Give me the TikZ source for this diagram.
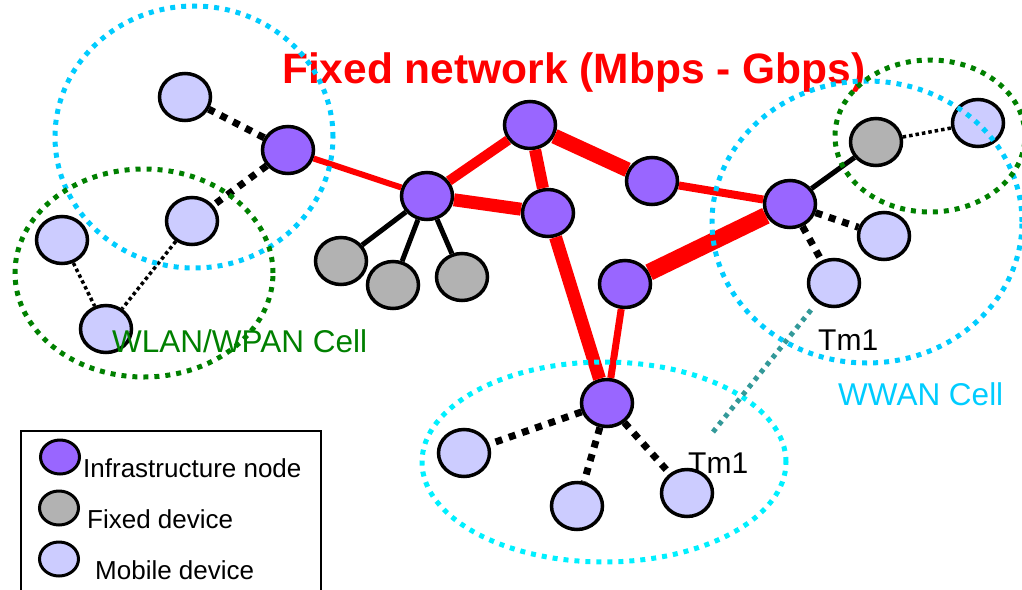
\documentclass[tikz,border=0pt]{standalone}
\usepackage{fontspec}
\setmainfont{Liberation Sans}
\usetikzlibrary{shapes.geometric}
\definecolor{infra}{HTML}{9966FF}
\definecolor{fixedc}{HTML}{B2B2B2}
\definecolor{mobc}{HTML}{CCCCFF}
\definecolor{cellcyan}{HTML}{00CCFF}
\definecolor{cellcyanb}{HTML}{00F0FF}
\definecolor{cellgreen}{HTML}{008000}
\definecolor{tealc}{HTML}{339999}
\tikzset{
  dev/.style={ellipse, draw=black, line width=3.5pt, minimum width=51pt, minimum height=47pt, inner sep=0pt},
  infranode/.style={dev, fill=infra},
  fixeddev/.style={dev, fill=fixedc},
  mobiledev/.style={dev, fill=mobc},
  legdev/.style={ellipse, draw=black, line width=3pt, minimum width=39pt, minimum height=34pt, inner sep=0pt},
  wire/.style={red, line width=#1},
  fixlink/.style={black, line width=5pt},
  radiolink/.style={black, line width=7pt, dash pattern=on 7pt off 7pt},
  adhoc/.style={black, line width=3.5pt, dash pattern=on 3.5pt off 3pt},
  cell/.style={line width=5pt, dash pattern=on 5pt off 6pt},
  lbl/.style={anchor=base west, inner sep=0pt, font=\fontsize{30}{36}\selectfont},
  leglbl/.style={anchor=base west, inner sep=0pt, font=\fontsize{26}{31}\selectfont}
}
\begin{document}
\begin{tikzpicture}[x=1pt,y=-1pt]
\useasboundingbox (0,0) rectangle (1022,589);
\clip (0,0) rectangle (1022,589);
% title
\node[anchor=base west, inner sep=0pt, text=red, font=\bfseries\fontsize{42.5}{50}\selectfont] (title) at (282,83) {Fixed network (Mbps - Gbps)};
% infrastructure nodes
\node[infranode] (A) at (288,150) {};
\node[infranode] (B) at (427,196) {};
\node[infranode] (C) at (530,125) {};
\node[infranode] (D) at (548,213) {};
\node[infranode] (E) at (652,181) {};
\node[infranode] (F) at (790,204) {};
\node[infranode] (G) at (625,284) {};
\node[infranode] (H) at (607,403) {};
% fixed devices
\node[fixeddev] (f1) at (341,261) {};
\node[fixeddev] (f2) at (393,285) {};
\node[fixeddev] (f3) at (462,277) {};
\node[fixeddev] (f4) at (876,142) {};
% mobile devices
\node[mobiledev] (m1) at (185,97) {};
\node[mobiledev] (m2) at (192,221) {};
\node[mobiledev] (m3) at (62,240) {};
\node[mobiledev] (m4) at (106,329) {};
\node[mobiledev] (m5) at (978,123) {};
\node[mobiledev] (m6) at (884,236) {};
\node[mobiledev] (m7) at (834,283) {};
\node[mobiledev] (m8) at (464,453) {};
\node[mobiledev] (m9) at (577,506) {};
\node[mobiledev] (m10) at (687,493) {};
% wired links
\draw[wire=6pt] (A) -- (B);
\draw[wire=10pt] (B) -- (C);
\draw[wire=13pt] (B) -- (D);
\draw[wire=12pt] (C) -- (D);
\draw[wire=15pt] (C) -- (E);
\draw[wire=8pt] (E) -- (F);
\draw[wire=17pt] (G) -- (F);
\draw[wire=13pt] (D) -- (H);
\draw[wire=7pt] (G) -- (H);
% fixed links
\draw[fixlink] (B) -- (f1);
\draw[fixlink] (B) -- (f2);
\draw[fixlink] (B) -- (f3);
\draw[fixlink] (F) -- (f4);
% radio links
\draw[radiolink] (A) -- (m1);
\draw[radiolink] (A) -- (m2);
\draw[radiolink] (F) -- (m6);
\draw[radiolink] (F) -- (m7);
\draw[radiolink] (H) -- (m8);
\draw[radiolink] (H) -- (m9);
\draw[radiolink] (H) -- (m10);
% ad hoc links
\draw[adhoc] (m2) -- (m4);
\draw[adhoc] (m3) -- (m4);
\draw[adhoc] (f4) -- (m5);
% cells
\draw[cell, cellcyan] (194,137) ellipse [x radius=139pt, y radius=131pt];
\draw[cell, cellgreen] (144,273) ellipse [x radius=129pt, y radius=104pt];
\draw[cell, cellcyan] (867,222) ellipse [x radius=155pt, y radius=141pt];
\draw[cell, cellgreen] (930,136) ellipse [x radius=95pt, y radius=76pt];
\draw[cell, cellcyanb] (604,462) ellipse [x radius=182pt, y radius=100pt];
% movement path
\coordinate (tmA) at (811,310);
\coordinate (tmB) at (713,432);
\draw[tealc, line width=5pt, dash pattern=on 4.5pt off 5pt] (tmA) -- (tmB);
% labels
\node[lbl, text=cellgreen, font=\fontsize{31.5}{36}\selectfont] (wlan) at (112,352) {WLAN/WPAN Cell};
\node[lbl] (tm1a) at (818,350) {Tm1};
\node[lbl, text=cellcyan, font=\fontsize{31.5}{36}\selectfont] (wwan) at (838,405) {WWAN Cell};
\node[lbl] (tm1b) at (688,473) {Tm1};
% legend
\draw[black, line width=2pt] (21,431) rectangle (321,620);
\node[legdev, fill=infra] (li) at (60,457) {};
\node[legdev, fill=fixedc] (lf) at (59,508) {};
\node[legdev, fill=mobc] (lm) at (59,559) {};
\node[leglbl] (lit) at (83,477) {Infrastructure node};
\node[leglbl] (lft) at (87,528) {Fixed device};
\node[leglbl] (lmt) at (95,579) {Mobile device};
\end{tikzpicture}
\end{document}
